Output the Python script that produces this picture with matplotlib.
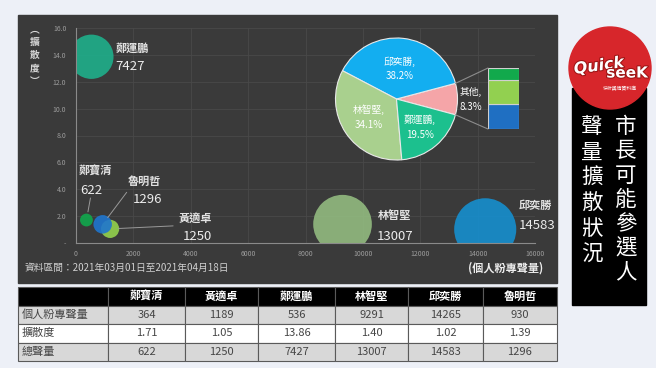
import numpy as np
import matplotlib
matplotlib.use('Agg')
import matplotlib.pyplot as plt
import matplotlib.patheffects as pe
from matplotlib.patches import Rectangle, Circle, ConnectionPatch

plt.rcParams['font.family'] = ['Noto Sans CJK TC', 'DejaVu Sans']

names = ['鄭寶清', '黃適卓', '鄭運鵬', '林智堅', '邱奕勝', '魯明哲']
fan_volume = [364, 1189, 536, 9291, 14265, 930]
spread = [1.71, 1.05, 13.86, 1.40, 1.02, 1.39]
total_volume = [622, 1250, 7427, 13007, 14583, 1296]
bubble_colors = ['#10a84c', '#94d24e', '#1faf8b', '#92bb80', '#168fcf', '#1f76cf']

pie_names = ['其他', '邱奕勝', '林智堅', '鄭運鵬']
pie_colors = ['#f5a5a8', '#13aef0', '#a9d08e', '#1cc08e']
other_names = ['魯明哲', '黃適卓', '鄭寶清']   # bottom -> top in the bar
other_colors = ['#1f6fc2', '#92d050', '#12a94c']

row_labels = ['個人粉專聲量', '擴散度', '總聲量']
x_ticks = [0, 2000, 4000, 6000, 8000, 10000, 12000, 14000, 16000]
y_ticks = [0, 2, 4, 6, 8, 10, 12, 14, 16]

vol = dict(zip(names, total_volume))
other_vals = [vol[n] for n in other_names]
pie_vals = [sum(other_vals)] + [vol[n] for n in pie_names[1:]]

W, H = 656, 368


def box(l, t, r, b):
    return [l / W, 1 - b / H, (r - l) / W, (b - t) / H]


fig = plt.figure(figsize=(W / 100, H / 100), dpi=100, facecolor='#edf0f7')

# background layer in pixel coordinates
bg = fig.add_axes([0, 0, 1, 1])
bg.set_xlim(0, W)
bg.set_ylim(H, 0)
bg.axis('off')
bg.add_patch(Rectangle((18, 15), 539, 268, color='#3a3a3a'))
bg.add_patch(Rectangle((572, 88), 74, 217, color='black'))
bg.add_patch(Circle((610, 68), 41, color='#d7262b'))
bg.text(599, 66, 'Quick', color='white', fontsize=11.5, fontweight='bold', style='italic',
        family='DejaVu Sans', ha='center', va='center', rotation=8,
        path_effects=[pe.withStroke(linewidth=1.5, foreground='#9c1515')])
bg.text(627, 73, 'seeK', color='white', fontsize=11, fontweight='bold',
        family='DejaVu Sans', ha='center', va='center',
        path_effects=[pe.withStroke(linewidth=1.5, foreground='#9c1515')])
bg.text(620, 89, '快析輿情資料庫', color='white', fontsize=3.5, ha='center', va='center')

for i, ch in enumerate('市長可能參選人'):
    bg.text(626, 127 + i * 24.3, ch, color='white', fontsize=15.5, ha='center', va='center')
for i, ch in enumerate('聲量擴散狀況'):
    bg.text(592, 127 + i * 25.5, ch, color='white', fontsize=15.5, ha='center', va='center')

for i, ch in enumerate(['︵', '擴', '散', '度', '︶']):
    bg.text(35, 29 + i * 13, ch, color='#d8d8d8', fontsize=7, fontweight='bold',
            ha='center', va='center')
bg.text(506, 268, '(個人粉專聲量)', color='#ececec', fontsize=8, fontweight='bold',
        ha='center', va='center')
bg.text(25, 268, '資料區間：2021年03月01日至2021年04月18日', color='#d0d0d0',
        fontsize=7, ha='left', va='center')

# bubble chart
ax = fig.add_axes(box(76, 28, 535, 243))
ax.set_facecolor('none')
ax.set_xlim(0, 16000)
ax.set_ylim(0, 16)
sc = ax.scatter(fan_volume, spread, s=np.array(total_volume) * 0.137, c=bubble_colors,
                alpha=0.9, linewidths=0, zorder=3, clip_on=True)
sc.set_clip_box(ax.bbox)
sc.set_clip_path(ax.patch)
ax.set_xticks(x_ticks)
ax.set_xticklabels([str(v) for v in x_ticks])
ax.set_yticks(y_ticks)
ax.set_yticklabels(['-'] + ['%.1f' % v for v in y_ticks[1:]])
ax.tick_params(length=0, labelsize=5, labelcolor='#9c9c9c')
ax.tick_params(axis='y', pad=7)
ax.tick_params(axis='x', pad=5)
ax.grid(color='#494949', lw=0.6)
ax.set_axisbelow(True)
for s in ['top', 'right']:
    ax.spines[s].set_visible(False)
for s in ['left', 'bottom']:
    ax.spines[s].set_color('#8a8a8a')
    ax.spines[s].set_linewidth(0.8)
    ax.spines[s].set_zorder(4)

# label offsets in pixels: name, number, leader line start (or None)
offsets = {
    '鄭寶清': ((9, 49), (5, 30), (4, 22)),
    '黃適卓': ((85, 11), (87, -8), (63, 3)),
    '鄭運鵬': ((41, 9), (39, -10), None),
    '林智堅': ((52, 9), (53, -12), None),
    '邱奕勝': ((50, 24), (52, 4), None),
    '魯明哲': ((42, 43), (45, 25), (24, 32)),
}
for n, x, y, t in zip(names, fan_volume, spread, total_volume):
    nm, num, line = offsets[n]
    ax.annotate(n, (x, y), xytext=nm, textcoords='offset pixels', color='#e2e2e2',
                fontsize=8, fontweight='bold', ha='center', va='center', annotation_clip=False)
    ax.annotate(str(t), (x, y), xytext=num, textcoords='offset pixels', color='#ececec',
                fontsize=9.5, ha='center', va='center', annotation_clip=False)
    if line:
        ax.annotate('', (x, y), xytext=line, textcoords='offset pixels',
                    arrowprops=dict(arrowstyle='-', color='#9a9a9a', lw=0.7,
                                    shrinkA=0, shrinkB=6))

# pie of total volume
pax = fig.add_axes(box(335.5, 38, 457.5, 160))
wedges, _ = pax.pie(pie_vals, colors=pie_colors, startangle=-15, radius=1,
                    wedgeprops=dict(edgecolor='#e8e8e8', linewidth=0.8))
pax.set_xlim(-1, 1)
pax.set_ylim(-1, 1)
pax.set_aspect('equal')
dist = [1.22, 0.5, 0.55, 0.6]
total = sum(pie_vals)
for w, n, v, d in zip(wedges, pie_names, pie_vals, dist):
    ang = np.deg2rad((w.theta1 + w.theta2) / 2)
    pax.text(d * np.cos(ang), d * np.sin(ang), '%s,\n%.1f%%' % (n, 100 * v / total),
             color='white', fontsize=7, ha='center', va='center', linespacing=1.6)

# bar of the "其他" slice
bax = fig.add_axes(box(488, 68, 519, 129))
bottom = 0
for v, c in zip(other_vals, other_colors):
    bax.bar(0, v, bottom=bottom, width=1, color=c, edgecolor='#d0d0d0', linewidth=0.8)
    bottom += v
bax.set_xlim(-0.5, 0.5)
bax.set_ylim(0, bottom)
bax.axis('off')

a = np.deg2rad(wedges[0].theta2)
b = np.deg2rad(wedges[0].theta1)
for (px, py), by in [((np.cos(a), np.sin(a)), bottom), ((np.cos(b), np.sin(b)), 0)]:
    con = ConnectionPatch(xyA=(px, py), coordsA=pax.transData, xyB=(-0.5, by),
                          coordsB=bax.transData, color='#8c8c8c', lw=0.8)
    fig.add_artist(con)

# table
tax = fig.add_axes(box(18, 287, 557, 361))
tax.axis('off')
cells = [[row_labels[0]] + [str(v) for v in fan_volume],
         [row_labels[1]] + ['%.2f' % v for v in spread],
         [row_labels[2]] + [str(v) for v in total_volume]]
widths = [90, 77, 73, 77, 73, 75, 74]
tbl = tax.table(cellText=cells, colLabels=[''] + names, cellLoc='center',
                colWidths=[w / sum(widths) for w in widths], bbox=[0, 0, 1, 1])
tbl.auto_set_font_size(False)
tbl.set_fontsize(8)
for (r, c), cell in tbl.get_celld().items():
    cell.set_edgecolor('#5a5a5a')
    cell.set_linewidth(0.8)
    if r == 0:
        cell.set_facecolor('black')
        cell.set_text_props(color='white', fontweight='bold')
    else:
        cell.set_facecolor('#d8d8d8' if r != 2 else 'white')
        cell.set_text_props(color='#454545')
    if c == 0 and r > 0:
        cell.PAD = 0.04
        cell.get_text().set_horizontalalignment('left')

fig.savefig('out.png', dpi=100, facecolor=fig.get_facecolor())
